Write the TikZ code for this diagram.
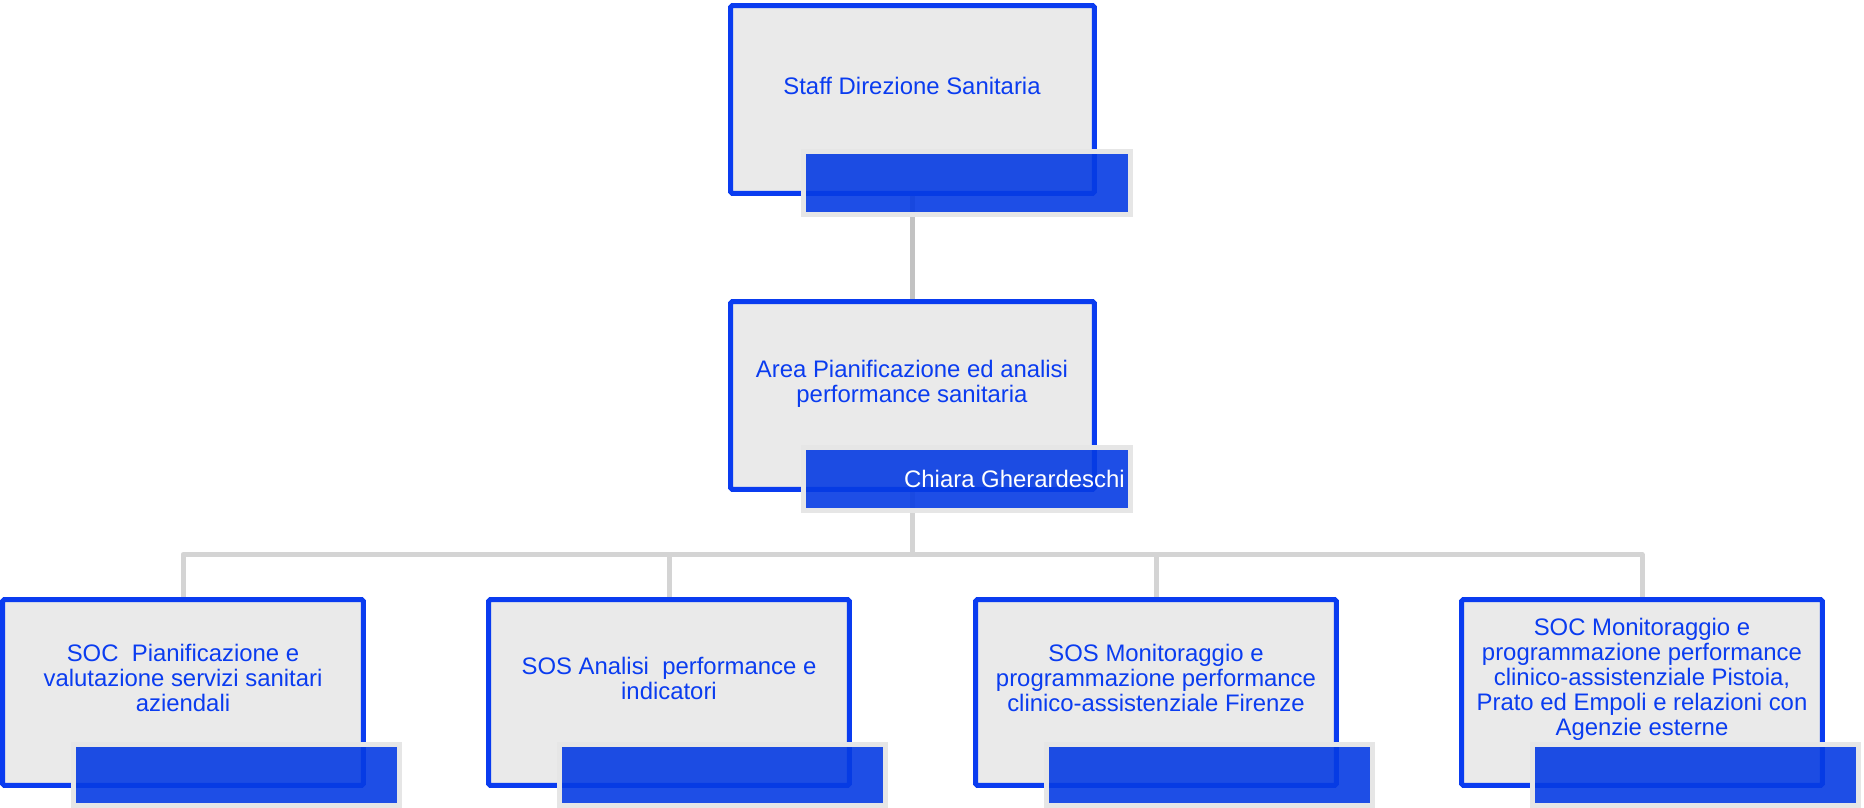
\documentclass[tikz,border=0pt]{standalone}
\usepackage{fontspec}
\setmainfont{Liberation Sans}
\definecolor{unitblue}{HTML}{0A3CF0}
\definecolor{bandblue}{HTML}{063BE3}
\definecolor{unitgrey}{HTML}{EAEAEA}
\definecolor{bandrim}{HTML}{E6E6E6}
\definecolor{linkgrey}{HTML}{D4D4D4}
\definecolor{stemgrey}{HTML}{C2C2C2}
\tikzset{
  unitbox/.style={draw=unitblue, fill=unitgrey, line width=0.1cm, rounded corners=1pt,
    minimum width=7.22cm, minimum height=3.72cm, inner sep=0pt},
  unittext/.style={text=unitblue, align=center, inner sep=0pt,
    font=\fontsize{13.6pt}{14.2pt}\selectfont},
  nameband/.style={draw=bandrim, fill=bandblue, fill opacity=0.9, draw opacity=1,
    line width=0.1cm, minimum width=6.52cm, minimum height=1.22cm, inner sep=0pt},
  link/.style={draw=linkgrey, line width=0.1cm, line join=round},
  stem/.style={draw=stemgrey, line width=0.1cm}
}
\begin{document}
\begin{tikzpicture}[x=0.02cm, y=-0.02cm]
  \useasboundingbox (0,0) rectangle (1864,808);
  \node[unitbox, minimum width=7.28cm, minimum height=3.76cm] (staff) at (912.5,99.5) {};
  \node[unitbox, minimum width=7.28cm, minimum height=3.76cm] (area) at (912.5,395.5) {};
  \node[unitbox] (soc1) at (183,692.5) {};
  \node[unitbox] (sos1) at (669,692.5) {};
  \node[unitbox] (sos2) at (1156,692.5) {};
  \node[unitbox] (soc2) at (1642,692.5) {};
  \begin{scope}
    \draw[stem] (staff.south) -- (area.north);
    \draw[link] (area.south) -- ++(0,62.5) -| (soc1.north);
    \draw[link] (area.south) -- ++(0,62.5) -| (sos1.north);
    \draw[link] (area.south) -- ++(0,62.5) -| (sos2.north);
    \draw[link] (area.south) -- ++(0,62.5) -| (soc2.north);
  \end{scope}
  \node[nameband, minimum width=6.54cm, minimum height=1.26cm] (staffb) at (967,183) {};
  \node[nameband, minimum width=6.54cm, minimum height=1.26cm] (areab) at (967,479) {};
  \node[nameband] (soc1b) at (236.5,775) {};
  \node[nameband] (sos1b) at (722.5,775) {};
  \node[nameband] (sos2b) at (1209.5,775) {};
  \node[nameband] (soc2b) at (1695.5,775) {};
  \node[unittext] (stafft) at (912,86) {Staff Direzione Sanitaria};
  \node[unittext] (areat) at (912,384) {Area Pianificazione ed analisi\\performance sanitaria};
  \node[unittext, text=white, anchor=east] (arean) at (1125,479) {Chiara Gherardeschi};
  \node[unittext] (soc1t) at (183,678) {SOC~ Pianificazione e\\valutazione servizi sanitari\\aziendali};
  \node[unittext] (sos1t) at (669,678) {SOS Analisi~ performance e\\indicatori};
  \node[unittext] (sos2t) at (1156,678) {SOS Monitoraggio e\\programmazione performance\\clinico-assistenziale Firenze};
  \node[unittext] (soc2t) at (1642,679) {SOC Monitoraggio e\\programmazione performance\\clinico-assistenziale Pistoia,\\Prato ed Empoli e relazioni con\\Agenzie esterne};
\end{tikzpicture}
\end{document}
